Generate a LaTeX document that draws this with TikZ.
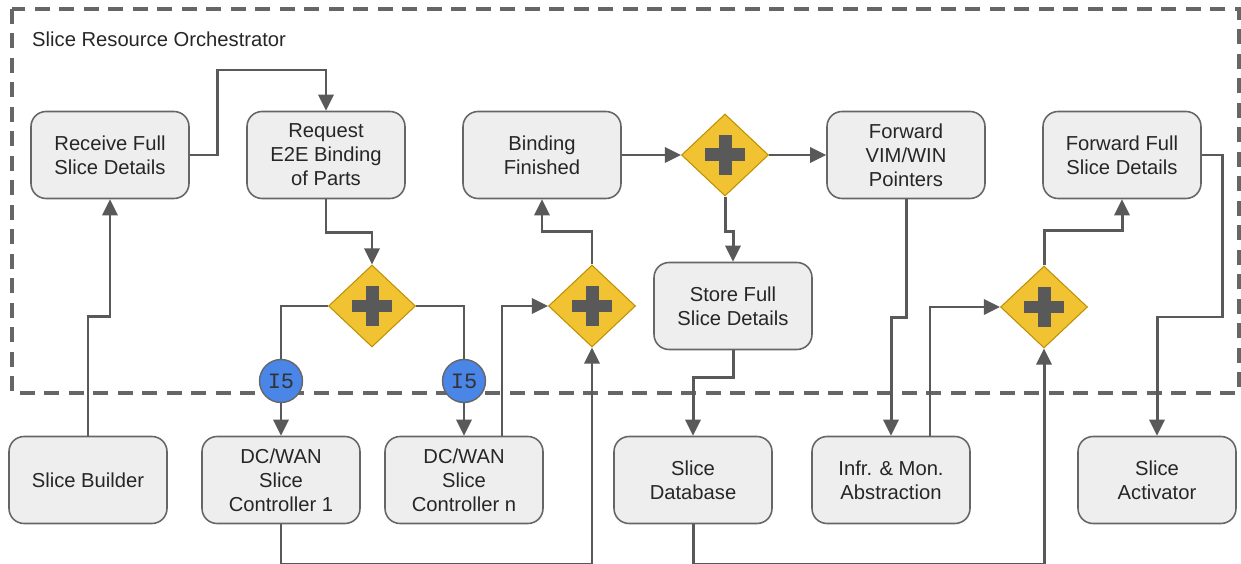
\documentclass[tikz,border=0pt]{standalone}
\usepackage{fontspec}
\setmainfont{Liberation Sans}
\setmonofont{Liberation Mono}
\usetikzlibrary{shapes.geometric,arrows.meta}
\definecolor{boxfill}{HTML}{EEEEEE}
\definecolor{boxline}{HTML}{666666}
\definecolor{flowgray}{HTML}{595959}
\definecolor{gateyellow}{HTML}{F1C232}
\definecolor{gateline}{HTML}{BF9000}
\definecolor{portblue}{HTML}{4A86E8}

\begin{document}
\begin{tikzpicture}[x=0.02cm,y=-0.02cm,>={Triangle[length=3.2mm,width=3mm]},
    flow/.style={->,draw=flowgray,line width=1.7pt},
    link/.style={draw=flowgray,line width=1.7pt},
    task node/.style={rectangle,rounded corners=0.3cm,draw=boxline,fill=boxfill,line width=0.9pt,minimum width=3.16cm,minimum height=1.74cm,align=center,text=black!85,font=\fontsize{11.5}{13.7}\selectfont},
    gate node/.style={diamond,draw=gateline,fill=gateyellow,line width=0.6pt,minimum width=1.74cm,minimum height=1.64cm,inner sep=0pt,
        path picture={
            \fill[flowgray] ([xshift=-0.4cm,yshift=-0.13cm]path picture bounding box.center) rectangle ([xshift=0.4cm,yshift=0.13cm]path picture bounding box.center);
            \fill[flowgray] ([xshift=-0.13cm,yshift=-0.4cm]path picture bounding box.center) rectangle ([xshift=0.13cm,yshift=0.4cm]path picture bounding box.center);}},
    port node/.style={circle,draw=boxline,fill=portblue,line width=0.8pt,minimum size=0.86cm,inner sep=0pt,text=black!80,font=\ttfamily\fontsize{12.5}{12.5}\selectfont}]
    \useasboundingbox (0,0) rectangle (1241,564);

    % orchestrator frame
    \draw[boxline,line width=1.8pt,dash pattern=on 0.3cm off 0.19cm] (12,9) rectangle (1239,393);
    \node[anchor=west,text=black!85,font=\fontsize{11.5}{13.7}\selectfont] (title) at (26,39) {Slice Resource Orchestrator};

    % tasks inside
    \node[task node] (recv)  at (110,155) {Receive Full\\Slice Details};
    \node[task node] (req)   at (326,155) {Request\\E2E Binding\\of Parts};
    \node[task node] (bnd)   at (542,155) {Binding\\Finished};
    \node[task node] (fwd)   at (906,155) {Forward\\VIM/WIN\\Pointers};
    \node[task node] (ffd)   at (1122,155) {Forward Full\\Slice Details};
    \node[task node] (store) at (733,306) {Store Full\\Slice Details};

    % gateways
    \node[gate node] (g1) at (725,155) {};
    \node[gate node] (gA) at (372,306) {};
    \node[gate node] (gB) at (592,306) {};
    \node[gate node] (gC) at (1044,307) {};

    % interfaces
    \node[port node] (i1) at (281,381) {I5};
    \node[port node] (in) at (464,381) {I5};

    % outside components
    \node[task node] (bld) at (88,480) {Slice Builder};
    \node[task node] (c1)  at (281,480) {DC/WAN\\Slice\\Controller 1};
    \node[task node] (cn)  at (464,480) {DC/WAN\\Slice\\Controller n};
    \node[task node] (db)  at (693,480) {Slice\\Database};
    \node[task node] (inf) at (891,480) {Infr. \& Mon.\\Abstraction};
    \node[task node] (act) at (1157,480) {Slice\\Activator};

    \draw[flow] (bld.north) -- ++(0,-119) -| (recv.south);
    \draw[flow] (recv.east) -- ++(28,0) -- ++(0,-85) -| (req.north);
    \draw[flow] (req.south) -- ++(0,33) -| (gA.north);
    \draw[link] (gA.west) -| (i1);
    \draw[link] (gA.east) -| (in);
    \draw[flow] (i1) -- (c1);
    \draw[flow] (in) -- (cn);
    \draw[flow] ([xshift=0.76cm]cn.north) |- (gB.west);
    \draw[flow] (c1.south) -- ++(0,40) -| (gB.south);
    \draw[flow] (gB.north) -- ++(0,-33) -| (bnd.south);
    \draw[flow] (bnd.east) -- (g1.west);
    \draw[flow] (g1.east) -- (fwd.west);
    \draw[flow] (g1.south) -- ++(0,35) -| (store.north);
    \draw[flow] (store.south) -- ++(0,27) -| (db.north);
    \draw[flow] (fwd.south) -- ++(0,118) -| (inf.north);
    \draw[flow] ([xshift=0.78cm]inf.north) |- (gC.west);
    \draw[flow] (db.south) -- ++(0,40) -| (gC.south);
    \draw[flow] (gC.north) -- ++(0,-35) -| (ffd.south);
    \draw[flow] (ffd.east) -- ++(21,0) -- ++(0,162) -| (act.north);
\end{tikzpicture}
\end{document}
